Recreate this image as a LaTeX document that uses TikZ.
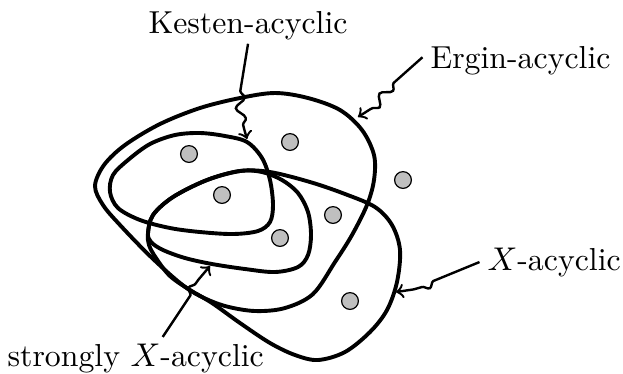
\documentclass[tikz,border=0pt]{standalone}
\usetikzlibrary{decorations.pathmorphing}
\begin{document}
\begin{tikzpicture}[x=0.3333pt,y=-0.3333pt,
  setline/.style={line width=1.3pt, line join=round},
  dot/.style={circle, fill=black!25, draw=black, line width=0.4pt, minimum size=5.6pt, inner sep=0pt},
  lab/.style={inner sep=0pt, anchor=base west, font=\fontsize{10.6}{12.7}\selectfont},
  arr/.style 2 args={->, thick, decorate,
    decoration={snake, amplitude=1.5pt, segment length=7pt, pre length=#1, post length=#2}}]
\useasboundingbox (0,0) rectangle (623,373);

% Ergin-acyclic
\draw[setline] plot[smooth cycle, tension=0.55] coordinates {
 (95,186) (104,165) (125,145) (160,124) (200,108) (240,98) (275,93) (308,98)
 (340,110) (362,130) (374,155) (374,180) (367,205) (352,235) (335,262) (313,294)
 (285,308) (255,311) (225,306) (200,296) (180,283) (150,256) (120,225) (103,205)};
% X-acyclic
\draw[setline] plot[smooth cycle, tension=0.55] coordinates {
 (148,233) (153,215) (173,197) (207,180) (240,171) (270,172) (310,182) (345,194)
 (375,207) (392,225) (400,250) (397,282) (387,310) (370,332) (345,352) (318,360)
 (295,355) (270,343) (240,323) (212,303) (190,290) (170,276) (156,258) (149,245)};
% strongly X-acyclic
\draw[setline] plot[smooth cycle, tension=0.55] coordinates {
 (148,233) (153,215) (173,197) (207,180) (240,171) (262,172) (282,180) (298,193)
 (308,212) (311,235) (308,255) (298,267) (275,272) (245,269) (212,264) (185,258)
 (163,250) (151,242)};
% Kesten-acyclic
\draw[setline] plot[smooth cycle, tension=0.55] coordinates {
 (110,192) (113,175) (128,160) (150,144) (175,135) (200,133) (225,136) (247,142)
 (262,158) (270,180) (273,205) (270,222) (258,231) (233,234) (200,232) (170,228)
 (140,220) (118,208)};

% points
\node[dot] (d1) at (189,154) {};
\node[dot] (d2) at (290,142) {};
\node[dot] (d3) at (222,195) {};
\node[dot] (d4) at (403,180) {};
\node[dot] (d5) at (333,215) {};
\node[dot] (d6) at (280,238) {};
\node[dot] (d7) at (350,301) {};

% labels
\node[lab] (kes) at (148,33) {Kesten-acyclic};
\node[lab] (erg) at (430,68) {Ergin-acyclic};
\node[lab] (xac) at (487,270) {$X$-acyclic};
\node[lab] (sxa) at (7,366) {strongly $X$-acyclic};

% arrow targets
\coordinate (kT) at (247,139);
\coordinate (eT) at (358,117);
\coordinate (xT) at (396,292);
\coordinate (sT) at (210,266);

\draw[arr={16pt}{3pt}] ([yshift=-1.2pt]kes.south) .. controls (240,70) and (236,105) .. (kT);
\draw[arr={13pt}{5pt}] ([xshift=-2.5pt,yshift=1pt]erg.west) .. controls (395,70) and (385,105) .. (eT);
\draw[arr={17pt}{6pt}] ([xshift=-2.5pt]xac.west) .. controls (445,261) and (440,290) .. (xT);
\draw[arr={17pt}{6pt}] ([xshift=9pt,yshift=2pt]sxa.north) .. controls (195,315) and (180,295) .. (sT);
\end{tikzpicture}
\end{document}
